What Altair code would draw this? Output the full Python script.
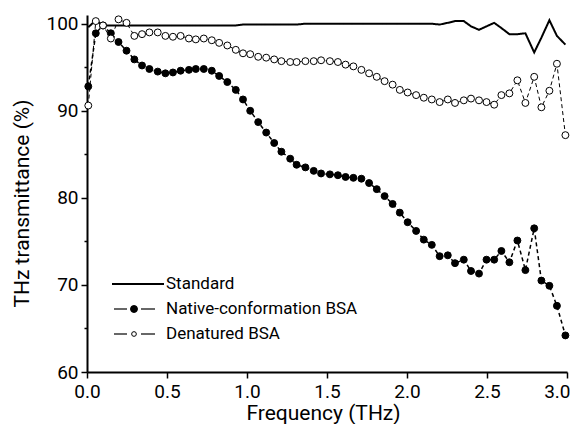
import altair as alt
import pandas as pd

freq = [0.008, 0.055, 0.10, 0.149, 0.197, 0.247, 0.296, 0.344, 0.39, 0.442,
        0.49, 0.537, 0.585, 0.637, 0.68, 0.73, 0.78, 0.826, 0.877, 0.93,
        0.975, 1.02, 1.07, 1.12, 1.17, 1.215, 1.27, 1.31, 1.365, 1.417,
        1.463, 1.518, 1.568, 1.616, 1.665, 1.715, 1.763, 1.811, 1.86, 1.91,
        1.955, 2.004, 2.057, 2.105, 2.155, 2.204, 2.255, 2.30, 2.355, 2.40,
        2.45, 2.497, 2.545, 2.59, 2.64, 2.69, 2.74, 2.795, 2.84, 2.89,
        2.937, 2.99]

standard = [99.6, 100.4, 99.8, 99.8, 99.8, 99.8, 99.8, 99.8, 99.8, 99.8,
            99.8, 99.8, 99.8, 99.8, 99.8, 99.8, 99.8, 99.8, 99.8, 99.8,
            99.9, 99.9, 99.9, 99.9, 99.9, 99.9, 99.9, 99.9, 100.0, 100.0,
            100.0, 100.0, 100.0, 100.0, 100.0, 100.0, 100.0, 100.0, 100.0, 100.0,
            100.0, 100.0, 100.0, 100.0, 100.0, 99.9, 100.1, 100.3, 100.3, 99.7,
            99.3, 99.7, 100.1, 99.5, 98.8, 98.8, 98.9, 96.7, 98.4, 100.4,
            98.6, 97.6]

native = [92.8, 98.9, 99.8, 98.9, 97.9, 96.9, 95.9, 95.2, 94.8, 94.5,
          94.3, 94.4, 94.6, 94.7, 94.8, 94.8, 94.6, 94.0, 93.3, 92.4,
          91.3, 90.0, 88.7, 87.5, 86.3, 85.3, 84.5, 83.8, 83.5, 83.1,
          82.8, 82.7, 82.6, 82.4, 82.3, 82.2, 81.7, 81.0, 80.2, 79.3,
          78.3, 77.2, 76.2, 75.2, 74.6, 73.3, 73.4, 72.5, 72.9, 71.6,
          71.3, 72.9, 72.9, 73.9, 72.6, 75.1, 71.7, 76.5, 70.5, 69.9,
          67.6, 64.2]

denatured = [90.6, 100.3, 99.8, 98.3, 100.5, 100.1, 98.6, 98.8, 99.0, 99.0,
             98.6, 98.5, 98.6, 98.3, 98.2, 98.3, 98.1, 97.8, 97.5, 97.0,
             96.6, 96.5, 96.2, 96.1, 95.9, 95.7, 95.6, 95.6, 95.7, 95.7,
             95.8, 95.7, 95.6, 95.3, 95.1, 94.7, 94.3, 93.9, 93.4, 93.0,
             92.4, 92.1, 91.8, 91.5, 91.3, 91.0, 91.3, 90.9, 91.2, 91.4,
             91.2, 91.0, 90.7, 91.8, 92.0, 93.5, 90.9, 93.9, 90.4, 92.3,
             95.4, 87.2]

series_names = ["Standard", "Native-conformation BSA", "Denatured BSA"]
x_ticks = [0, 0.25, 0.5, 0.75, 1.0, 1.25, 1.5, 1.75, 2.0, 2.25, 2.5, 2.75, 3.0]
y_ticks = [60, 65, 70, 75, 80, 85, 90, 95, 100]

rows = []
for name, vals in zip(series_names, [standard, native, denatured]):
    for f, v in zip(freq, vals):
        rows.append({"f": f, "v": v, "series": name})
df = pd.DataFrame(rows)

FONT = "Roboto"

x_enc = alt.X(
    "f:Q",
    scale=alt.Scale(domain=[0, 3.0], nice=False, zero=False),
    axis=alt.Axis(
        values=x_ticks,
        labelExpr="round(datum.value*4) % 2 === 0 ? format(datum.value, '.1f') : ''",
        tickSize={"condition": {"test": "round(datum.value*4) % 2 === 0", "value": 6}, "value": 3},
        labelAlign={"condition": {"test": "datum.value >= 3", "value": "right"}, "value": "center"},
        labelOffset={"condition": {"test": "datum.value >= 3", "value": 3}, "value": 0},
        title="Frequency (THz)",
        titleX=236, titleY=41, titleBaseline="middle", titleAlign="center",
    ),
)
y_enc = alt.Y(
    "v:Q",
    scale=alt.Scale(domain=[60, 101], nice=False, zero=False),
    axis=alt.Axis(
        values=y_ticks,
        labelExpr="datum.value % 10 === 0 ? datum.label : ''",
        tickSize={"condition": {"test": "datum.value % 10 === 0", "value": 6}, "value": 3},
        title="THz transmittance (%)",
        titleX=-65, titleY=188, titleAngle=-90, titleBaseline="middle", titleAlign="center",
    ),
)

lines = alt.Chart(df).mark_line(color="black").encode(
    x=x_enc, y=y_enc,
    strokeDash=alt.StrokeDash("series:N", scale=alt.Scale(domain=series_names, range=[[1, 0], [4, 3], [4, 3]]), legend=None),
    strokeWidth=alt.StrokeWidth("series:N", scale=alt.Scale(domain=series_names, range=[2, 1, 1]), legend=None),
)

points = alt.Chart(df[df["series"] != "Standard"]).mark_point(
    shape="circle", filled=True, stroke="black", strokeWidth=1, size=48, opacity=1
).encode(
    x="f:Q", y="v:Q",
    fill=alt.Fill("series:N", scale=alt.Scale(domain=series_names[1:], range=["black", "white"]), legend=None),
)

# legend (drawn inside plot, lower left)
def one(label):
    return pd.DataFrame({"label": [label]})

leg = []
rows_y = [269, 294, 319]
leg.append(alt.Chart(one(series_names[0])).mark_rule(color="black", strokeWidth=2).encode(
    x=alt.value(25), x2=alt.value(77), y=alt.value(rows_y[0])))
for i, fillc in [(1, "black"), (2, "white")]:
    leg.append(alt.Chart(one(series_names[i])).mark_rule(color="black", strokeWidth=1.2).encode(
        x=alt.value(27), x2=alt.value(40), y=alt.value(rows_y[i])))
    leg.append(alt.Chart(one(series_names[i])).mark_rule(color="black", strokeWidth=1.2).encode(
        x=alt.value(54), x2=alt.value(68), y=alt.value(rows_y[i])))
    leg.append(alt.Chart(one(series_names[i])).mark_point(
        shape="circle", filled=True, fill=fillc, stroke="black", strokeWidth=1,
        size=48 if i == 1 else 22, opacity=1).encode(
        x=alt.value(47), y=alt.value(rows_y[i])))
for i in range(3):
    leg.append(alt.Chart(one(series_names[i])).mark_text(
        align="left", baseline="middle", fontSize=17, font=FONT, color="black").encode(
        x=alt.value(79), y=alt.value(rows_y[i]), text="label:N"))

chart = alt.layer(lines, points, *leg).properties(
    width=480, height=357,
    padding={"left": 79, "top": 7, "right": 3, "bottom": 52},
    autosize=alt.AutoSizeParams(type="none"),
).configure_view(stroke=None).configure_axis(
    grid=False,
    domainColor="black", domainWidth=2,
    tickColor="black", tickWidth=1.5,
    labelFont=FONT, labelFontSize=19, labelColor="black", labelPadding=3,
    titleFont=FONT, titleFontSize=21, titleColor="black", titleFontWeight="normal",
).configure_axisX(labelPadding=4)

chart.save("out.html", embed_options={"renderer": "svg", "actions": False})
